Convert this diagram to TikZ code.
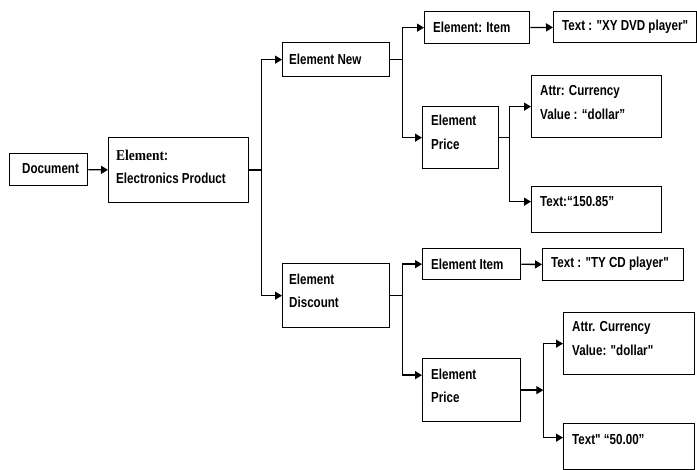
\documentclass[tikz,border=0pt]{standalone}
\usepackage{fontspec}
\setmainfont{Liberation Sans}[FakeStretch=0.8, Ligatures=TeXOff]
\newfontfamily\serifel{Liberation Serif}[FakeStretch=0.9]
\usetikzlibrary{arrows.meta}

% straight ASCII double quote
\newcommand{\dq}{\symbol{34}}

\tikzset{
  box/.style={draw=black, line width=1.3pt, rectangle, inner sep=0pt, anchor=north west},
  txt/.style={anchor=west, inner sep=0pt, align=left,
              font=\fontsize{14.5}{23.5}\selectfont\bfseries},
  conn/.style={draw=black, line width=1.3pt},
  arr/.style={conn, -{Triangle[length=7pt,width=8pt]}},
}

% box at top-left corner (#1,#2) with size (#3 x #4)
\newcommand{\mkbox}[5]{%
  \node[box, minimum width=#3pt, minimum height=#4pt] (#5) at (#1,#2) {};}

\begin{document}
\begin{tikzpicture}[x=1pt, y=-1pt]
\path[use as bounding box, fill=white] (0,0) rectangle (697,470);

% boxes
\mkbox{9}{153}{78}{32}{doc}
\mkbox{108}{137}{140}{65}{elec}
\mkbox{282}{42}{107}{34}{new}
\mkbox{424}{11}{105}{32}{item1}
\mkbox{553}{11}{143}{31}{txt1}
\mkbox{422}{106}{76}{62}{price1}
\mkbox{531}{75}{130}{62}{attr1}
\mkbox{531}{186}{130}{46}{val1}
\mkbox{282}{263}{107}{64}{disc}
\mkbox{422}{248}{98}{31}{item2}
\mkbox{542}{248}{141}{32}{txt2}
\mkbox{422}{358}{98}{63}{price2}
\mkbox{563}{312}{131}{62}{attr2}
\mkbox{563}{423}{131}{46}{val2}

% labels
\node[txt] (doct) at (22,169) {Document};
\node[txt] (elect) at (116,167) {{\serifel\fontsize{15}{23.5}\selectfont\bfseries Element}:\\Electronics Product};
\node[txt] (newt) at (289,59) {Element New};
\node[txt] (item1t) at (433,27) {Element: Item};
\node[txt] (txt1t) at (562,27) {Text : \dq XY DVD player\dq};
\node[txt] (price1t) at (431,132.5) {Element\\Price};
\node[txt] (attr1t) at (540,102.5) {Attr: Currency\\Value : “dollar”};
\node[txt] (val1t) at (540,202) {Text:“150.85”};
\node[txt] (disct) at (289,291) {Element\\Discount};
\node[txt] (item2t) at (431,264) {Element Item};
\node[txt] (txt2t) at (551,264) {Text : \dq TY CD player\dq};
\node[txt] (price2t) at (431,386) {Element\\Price};
\node[txt] (attr2t) at (572,338.5) {Attr. Currency\\Value: \dq dollar\dq};
\node[txt] (val2t) at (572,440) {Text\dq{} “50.00”};

% connectors
\draw[arr] (doc) -- (elec);
\draw[arr] (elec.east) -- ++(12,0) |- (new.west);
\draw[arr] (elec.east) -- ++(12,0) |- (disc.west);

\draw[arr] (new.east) -- ++(12,0) |- (item1.west);
\draw[arr] (new.east) -- ++(12,0) |- (price1.west);
\draw[arr] (item1) -- (txt1);
\draw[arr] (price1.east) -- ++(10,0) |- (attr1.west);
\draw[arr] (price1.east) -- ++(10,0) |- ([yshift=8pt]val1.west);

\draw[arr] (disc.east) -- ++(12,0) |- (item2.west);
\draw[arr] (disc.east) -- ++(12,0) |- ([yshift=15pt]price2.west);
\draw[arr] (item2) -- (txt2);
\draw[arr] (price2.east) -- ++(22,0) coordinate (pj);
\draw[arr] (pj) |- (attr2.west);
\draw[arr] (pj) |- ([yshift=9pt]val2.west);
\end{tikzpicture}
\end{document}
